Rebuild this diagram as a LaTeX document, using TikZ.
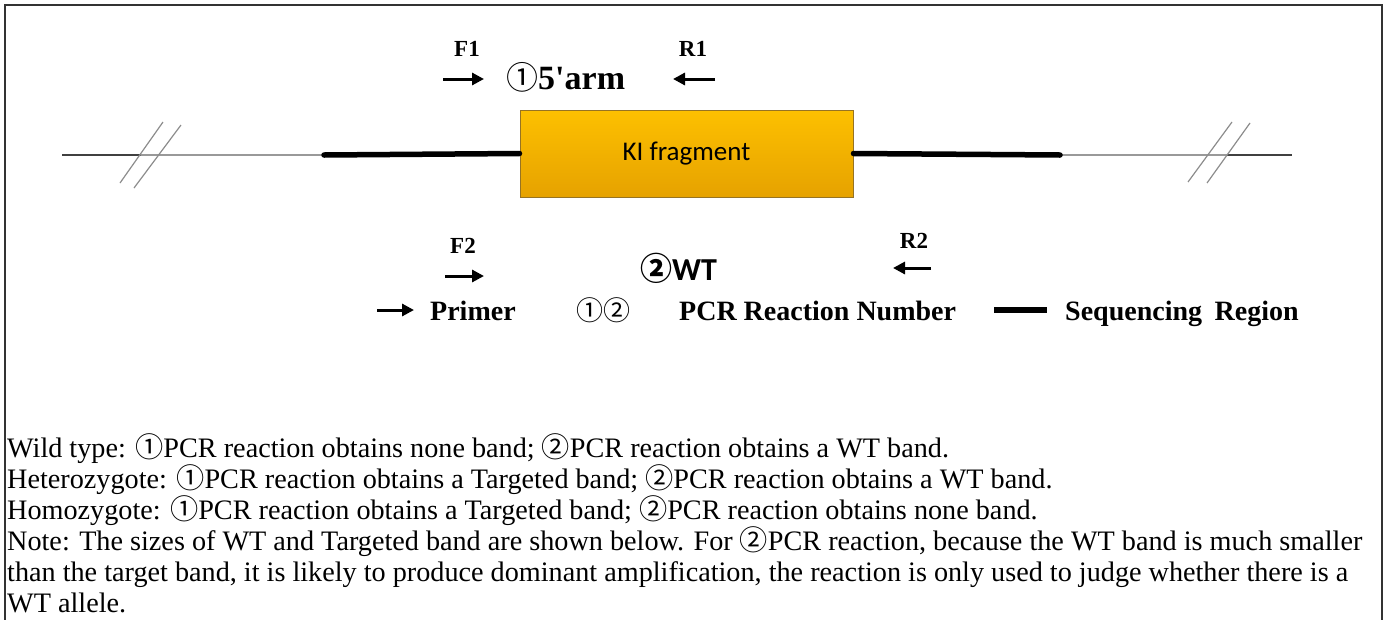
\documentclass[tikz,border=0pt]{standalone}
\usepackage{fontspec}
\setmainfont{Liberation Serif}
\newfontfamily\carlito{Carlito}
\newfontfamily\circfont{Noto Sans CJK SC}
\usetikzlibrary{arrows.meta}
\definecolor{kifill}{RGB}{253,192,0}
\definecolor{kibot}{RGB}{230,162,0}
\definecolor{kiedge}{RGB}{150,115,35}
\tikzset{
  dnaline/.style={line width=1.5pt, draw=black!40, line cap=round},
  endline/.style={line width=1.5pt, draw=black!75},
  seqline/.style={line width=5.5pt, draw=black, line cap=round},
  breakmark/.style={line width=1.2pt, draw=black!45},
  primer/.style={line width=3pt, -{Triangle[length=12pt,width=12pt]}},
  plabel/.style={font=\bfseries\fontsize{23}{26}\selectfont, anchor=base, inner sep=0pt},
  legtext/.style={font=\bfseries\fontsize{28}{32}\selectfont, anchor=base west, inner sep=0pt},
  bodytext/.style={font=\fontsize{28.2}{32}\selectfont, anchor=base west, inner sep=0pt},
  kibox/.style={draw=kiedge, line width=1pt, top color=kifill, bottom color=kibot,
    minimum width=333pt, minimum height=87pt, inner sep=0pt, font=\carlito\fontsize{27}{30}\selectfont},
}
\newcommand{\cone}{{\circfont\mdseries ①}}
\newcommand{\ctwo}{{\circfont\mdseries ②}}
\begin{document}
\begin{tikzpicture}[x=1pt,y=-1pt]
\useasboundingbox (0,0) rectangle (1387,619);
\draw[line width=1.3pt, draw=black!80] (5,5) rectangle (1382,660);

% DNA line
\node[kibox] (ki) at (686.5,153.5) {KI fragment};
\coordinate (l0) at (62,155);
\coordinate (lb) at (141,155);
\coordinate (ls) at (324,155);
\coordinate (rs) at (1060,155);
\coordinate (rb) at (1227,155);
\coordinate (r0) at (1292,155);
\draw[endline] (l0) -- (lb);
\draw[dnaline] (lb) -- (ls);
\draw[dnaline] (rs) -- (rb);
\draw[endline] (rb) -- (r0);
\draw[seqline] (ls) -- (ki.west);
\draw[seqline] (ki.east) -- (rs);
% break marks
\draw[breakmark] (120,183) -- (163,122);
\draw[breakmark] (134,188) -- (181,125);
\draw[breakmark] (1188,182) -- (1232,122);
\draw[breakmark] (1207,183) -- (1250,123);

% PCR 1
\node[plabel] (f1) at (467,56) {F1};
\node[plabel] (r1) at (693,56) {R1};
\coordinate (f1a) at (443,79); \coordinate (f1b) at (484,79);
\coordinate (r1a) at (715,79); \coordinate (r1b) at (673,79);
\draw[primer] (f1a) -- (f1b);
\draw[primer] (r1a) -- (r1b);
\node[anchor=base west, inner sep=0pt, font=\bfseries\fontsize{34}{36}\selectfont] (p1) at (506,89) {{\circfont\mdseries\fontsize{32}{34}\selectfont ①}5\textquotesingle arm};

% PCR 2
\node[plabel] (f2) at (463,253) {F2};
\node[plabel] (r2) at (914,248) {R2};
\coordinate (f2a) at (445,276); \coordinate (f2b) at (484,276);
\coordinate (r2a) at (931,268); \coordinate (r2b) at (893,268);
\draw[primer] (f2a) -- (f2b);
\draw[primer] (r2a) -- (r2b);
\node[anchor=base west, inner sep=0pt, font=\carlito\bfseries\fontsize{32}{35}\selectfont] (p2) at (640,280) {{\circfont\bfseries ②}WT};

% legend
\coordinate (la) at (377,310); \coordinate (lb2) at (414,310);
\draw[primer] (la) -- (lb2);
\node[legtext] (lprimer) at (430,320) {Primer};
\node[legtext, font=\circfont\fontsize{27}{30}\selectfont] (lnum) at (576,320) {①②};
\node[legtext] (lpcr) at (679,320) {PCR Reaction Number};
\coordinate (sa) at (994,310); \coordinate (sb) at (1047,310);
\draw[line width=6pt] (sa) -- (sb);
\node[legtext] (lseq) at (1065,320) {Sequencing\hspace{0.45em}Region};

% body text
\node[bodytext] (t1) at (7,457) {Wild type: \cone PCR reaction obtains none band; \ctwo PCR reaction obtains a WT band.};
\node[bodytext] (t2) at (7,488) {Heterozygote: \cone PCR reaction obtains a Targeted band; \ctwo PCR reaction obtains a WT band.};
\node[bodytext] (t3) at (7,519) {Homozygote: \cone PCR reaction obtains a Targeted band; \ctwo PCR reaction obtains none band.};
\node[bodytext] (t4) at (7,550) {Note: The sizes of WT and Targeted band are shown below. For \ctwo PCR reaction, because the WT band is much smaller};
\node[bodytext] (t5) at (7,581) {than the target band, it is likely to produce dominant amplification, the reaction is only used to judge whether there is a};
\node[bodytext] (t6) at (7,612) {WT allele.};
\end{tikzpicture}
\end{document}
